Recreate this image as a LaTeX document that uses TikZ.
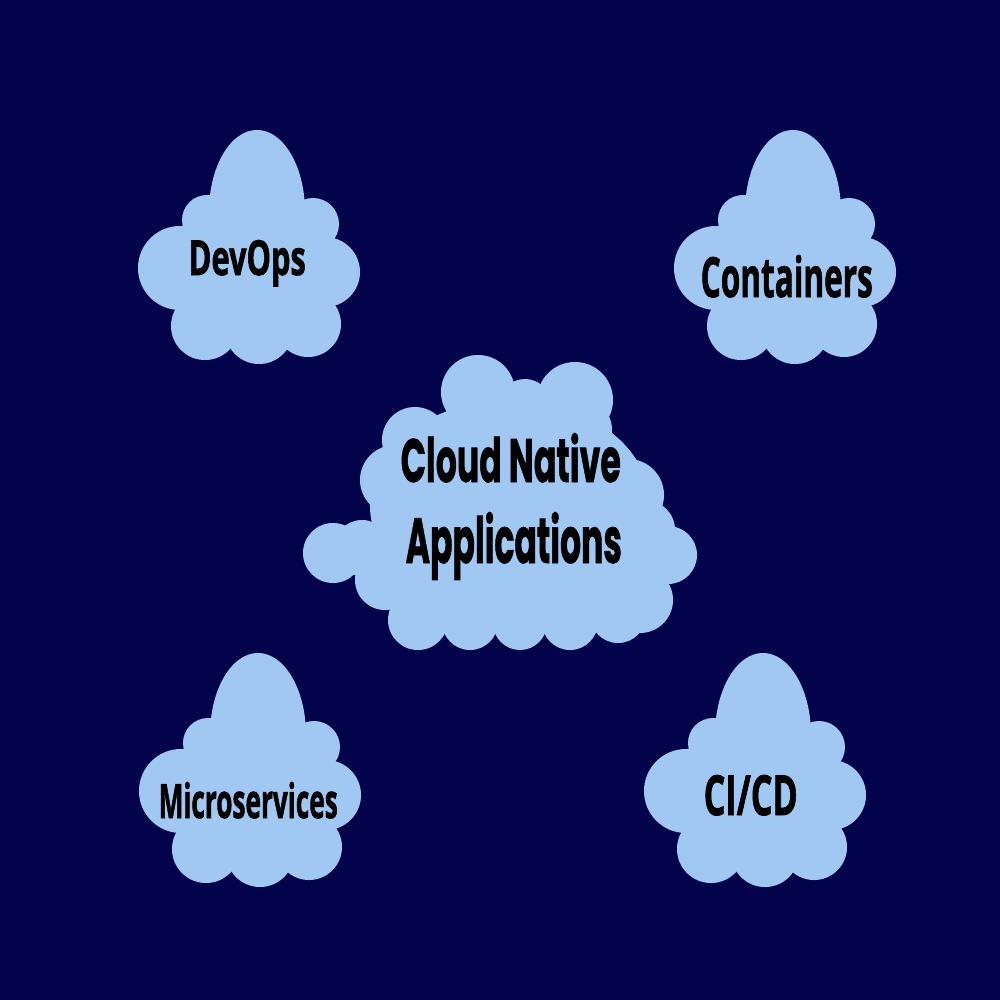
\documentclass[tikz,border=0pt]{standalone}
\usepackage{fontspec}
\usepackage{graphicx}
\newfontfamily\smallfont{Open Sans}[BoldFeatures={FakeBold=1.6}]
\newfontfamily\bigfont{Poppins}[BoldFeatures={FakeBold=1.2}]
\definecolor{bgnavy}{RGB}{2,3,74}
\definecolor{cloudblue}{RGB}{160,200,242}
\newcommand\smcloud[2]{%
  \begin{scope}[shift={(#1,#2)}]
    \fill[cloudblue] (257,212) ellipse [x radius=4.8mm, y radius=8.2mm];
    \fill[cloudblue] (207,220) circle [radius=2.5mm];
    \fill[cloudblue] (180,268) circle [radius=4.2mm];
    \fill[cloudblue] (205,326) circle [radius=3.4mm];
    \fill[cloudblue] (259,330) circle [radius=3.4mm];
    \fill[cloudblue] (308,324) circle [radius=3.3mm];
    \fill[cloudblue] (313,224) circle [radius=2.6mm];
    \fill[cloudblue] (325,272) circle [radius=3.5mm];
    \fill[cloudblue] (255,280) ellipse [x radius=8.5mm, y radius=5.5mm];
  \end{scope}}
\begin{document}
\begin{tikzpicture}[x=0.01cm,y=-0.01cm,
  lbl/.style={anchor=base west,inner sep=0pt,text=black}]
\fill[bgnavy] (0,0) rectangle (1000,1000);
\useasboundingbox (0,0) rectangle (1000,1000);
% small clouds
\smcloud{0}{0}
\smcloud{536}{0}
\smcloud{1}{523}
\smcloud{506}{523}
% centre cloud
\begin{scope}[cloudblue]
  \fill (510,505) ellipse [x radius=14mm, y radius=10.5mm];
  \fill (395,500) rectangle (645,625);
  \fill (478,392) circle [radius=3.7mm];
  \fill (525,405) circle [radius=2.6mm];
  \fill (575,400) circle [radius=3.8mm];
  \fill (580,430) circle [radius=3.2mm];
  \fill (628,495) circle [radius=3.6mm];
  \fill (645,530) circle [radius=3.0mm];
  \fill (668,555) circle [radius=2.9mm];
  \fill (640,600) circle [radius=3.3mm];
  \fill (415,440) circle [radius=3.3mm];
  \fill (395,480) circle [radius=3.5mm];
  \fill (333,553) circle [radius=3.0mm];
  \fill (362,548) circle [radius=2.8mm];
  \fill (385,580) circle [radius=3.0mm];
  \fill (418,620) circle [radius=3.0mm];
  \fill (470,622) circle [radius=2.8mm];
  \fill (520,623) circle [radius=2.7mm];
  \fill (570,622) circle [radius=2.8mm];
  \fill (618,615) circle [radius=2.8mm];
\end{scope}
% labels
\node[lbl] (devops) at (188,275) {\resizebox{11.7mm}{3.5mm}{\smallfont\bfseries DevOps}};
\node[lbl] (containers) at (700,297) {\resizebox{17.2mm}{4.2mm}{\smallfont\bfseries Containers}};
\node[lbl] (micro) at (158,818) {\resizebox{17.9mm}{3.6mm}{\smallfont\bfseries Microservices}};
\node[lbl] (cicd) at (703,815) {\resizebox{9.4mm}{4.0mm}{\smallfont\bfseries CI/CD}};
\node[lbl] (cloudnative) at (400,482) {\resizebox{22mm}{4.9mm}{\bigfont\bfseries Cloud\ Native}};
\node[lbl] (apps) at (405,563) {\resizebox{21.6mm}{5.1mm}{\bigfont\bfseries Applications}};
\end{tikzpicture}
\end{document}
